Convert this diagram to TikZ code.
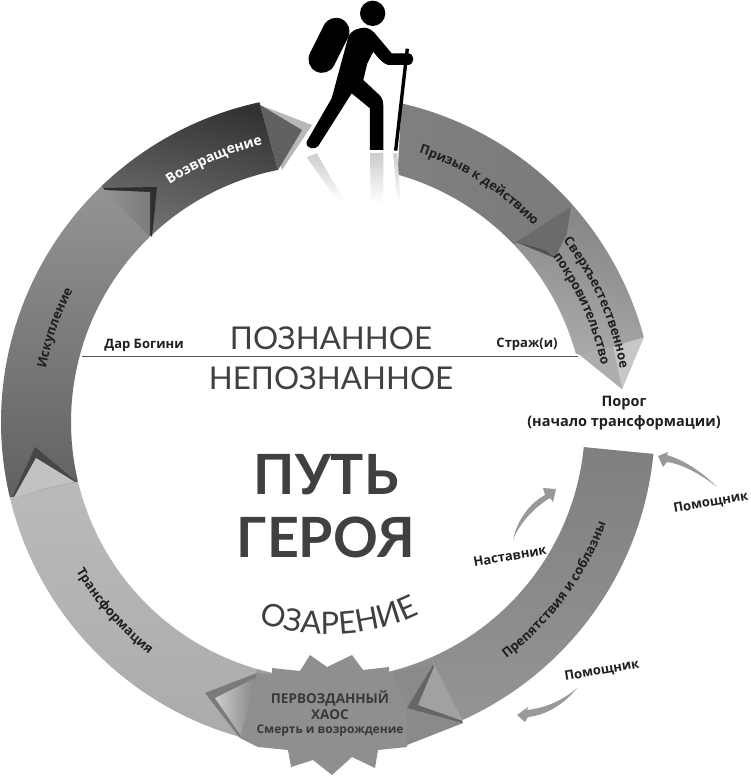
\documentclass[tikz,border=0pt]{standalone}
\usepackage{fontspec}
\usetikzlibrary{decorations.text}
\setmainfont{Open Sans}
\newfontfamily\titlef{Lato}
\newcommand\lblf{\fontsize{13}{15}\bfseries\selectfont}
\newcommand\RO{327}
\newcommand\RI{257}
\definecolor{txtgrey}{gray}{0.12}
\definecolor{titlegrey}{gray}{0.25}
\tikzset{
  flat/.style={fill=#1,draw=none},
  label text/.style={font=\lblf,text=txtgrey,inner sep=0pt},
  title text/.style={font=\titlef\fontsize{31.4}{34}\selectfont,text=titlegrey,inner sep=0pt},
  big text/.style={font=\titlef\bfseries\fontsize{55.5}{58}\selectfont,text=titlegrey,inner sep=0pt},
  helper arrow/.style={fill=black!40,draw=none},
  reflect/.style={top color=black!20,bottom color=white,draw=none},
  arc text/.style={decorate,decoration={text along path,text align=center,text={#1}}}
}
\begin{document}
\begin{tikzpicture}[x=1pt,y=1pt]
\useasboundingbox (0,0) rectangle (750,-781);
\fill[white] (0,0) rectangle (750,-781);
\coordinate (c) at (328,-422);

% ---- Supernatural aid (under Call)
\path[left color=black!48,right color=black!30,shading angle=-20]
  ([shift={(41.4:\RO)}]c) arc[start angle=41.4,end angle=15.1,radius=\RO]
  -- (622,-389) -- (580,-355)
  -- ([shift={(15.5:\RI)}]c) arc[start angle=15.5,end angle=43.6,radius=\RI] -- cycle;
\path[flat=black!22] (644,-337) -- (622,-389) -- (613,-347) -- cycle;
\path[flat=black!32] (613,-347) -- (622,-389) -- (580,-355) -- cycle;
% ---- Call
\path[left color=black!50,right color=black!52]
  ([shift={(77:\RO)}]c) arc[start angle=77,end angle=41.4,radius=\RO]
  -- ([shift={(43.6:\RI)}]c) arc[start angle=43.6,end angle=74.3,radius=\RI] -- cycle;
\path[flat=black!58] (571,-207) -- (516,-242) -- (555,-258) -- (567,-233) -- cycle;
\path[flat=black!68] (516,-242) -- (555,-258) -- (545,-250) -- cycle;

% ---- Return
\path[flat=black!28] (260,-105) -- (312,-125) -- (282,-170) -- cycle;
\path[left color=black!80,right color=black!55,shading angle=-15]
  ([shift={(133.9:\RO)}]c) arc[start angle=133.9,end angle=102.1,radius=\RO]
  -- ([shift={(101.2:\RI)}]c) arc[start angle=101.2,end angle=133.6,radius=\RI] -- cycle;
\path[flat=black!62] (260,-105) -- (302,-130) -- (278,-170) -- cycle;

% ---- Atonement
\path[top color=black!42,bottom color=black!62]
  ([shift={(133.9:\RO)}]c) arc[start angle=133.9,end angle=193.4,radius=\RO]
  -- ([shift={(193.4:\RI)}]c) arc[start angle=193.4,end angle=133.6,radius=\RI] -- cycle;
\path[flat=black!82] (103,-188) -- (157,-187) -- (152,-237) -- cycle;
\path[left color=black!42,right color=black!52] (103,-190) -- (150,-192) -- (150,-236) -- cycle;
\path[flat=black!72] (35,-447) -- (11,-500) -- (77,-482) -- cycle;

% ---- Transformation
\path[top color=black!27,bottom color=black!33]
  ([shift={(193.4:\RO)}]c) arc[start angle=193.4,end angle=255,radius=\RO]
  -- ([shift={(255:\RI)}]c) arc[start angle=255,end angle=193.4,radius=\RI] -- cycle;
\path[flat=black!24] (36,-458) -- (13,-499) -- (75,-482) -- cycle;
\path[flat=black!30] (13,-499) -- (75,-482) -- (45,-488) -- cycle;

% ---- Bottom of the ring
\path[left color=black!38,right color=black!46]
  ([shift={(254:\RO)}]c) arc[start angle=254,end angle=294,radius=\RO]
  -- ([shift={(-66.4:\RI)}]c) arc[start angle=-66.4,end angle=-106,radius=\RI] -- cycle;
\path[flat=black!52] (257,-673) -- (205,-693) -- (240,-738) -- cycle;
\path[left color=black!20,right color=black!48] (215,-698) -- (257,-677) -- (241,-736) -- cycle;

% ---- Trials
\path[top color=black!50,bottom color=black!42]
  ([shift={(-66:\RO)}]c) arc[start angle=-66,end angle=-5.6,radius=\RO]
  -- ([shift={(-5.6:\RI)}]c) arc[start angle=-5.6,end angle=-66.4,radius=\RI] -- cycle;

% ---- Chaos star
\path[flat=black!44] (257,-673) -- (272,-675) -- (272,-668) -- (300,-671) -- (310,-655) -- (327,-667)
  -- (352,-655) -- (363,-670) -- (389,-667) -- (389,-673) -- (407,-707) -- (407,-747)
  -- (378,-750) -- (375,-768) -- (352,-757) -- (332,-775) -- (313,-760) -- (291,-767)
  -- (288,-750) -- (258,-747) -- (240,-738) -- cycle;
\path[flat=black!46] (407,-708) -- (392,-672) -- (433,-665) -- (463,-723) -- (407,-745) -- cycle;
\path[flat=black!60] (407,-708) -- (433,-665) -- (463,-723) -- cycle;
\path[flat=black!37] (418,-705) -- (434.5,-666) -- (463,-721) -- cycle;

% ---- Dividing line and titles
\coordinate (lineL) at (82,-356.5);
\coordinate (lineR) at (578,-356.5);
\draw[black!65,line width=1.2pt] (lineL) -- (lineR);
\node[title text] (known) at (331,-338) {ПОЗНАННОЕ};
\node[title text] (unknown) at (331,-378) {НЕПОЗНАННОЕ};
\node[big text] (way) at (326,-475) {ПУТЬ};
\node[big text] (hero) at (326,-537) {ГЕРОЯ};
\path[arc text={|\titlef\fontsize{31}{33}\selectfont\color{titlegrey}|ОЗАРЕНИЕ}]
  (257,-621) .. controls (300,-640) and (370,-640) .. (421,-613);

% ---- Labels on the ring
\path[arc text={|\lblf\color{txtgrey}|Призыв к действию}] ([shift={(72:284)}]c) arc[start angle=72,end angle=43,radius=284];
\path[arc text={|\lblf\color{txtgrey}|Сверхъестественное}] ([shift={(40:297)}]c) arc[start angle=40,end angle=8,radius=297];
\path[arc text={|\lblf\color{txtgrey}|покровительство}] ([shift={(37:279)}]c) arc[start angle=37,end angle=11,radius=279];
\path[arc text={|\fontsize{14}{16}\bfseries\selectfont\color{white}|Возвращение}] ([shift={(127:285)}]c) arc[start angle=127,end angle=100,radius=285];
\path[arc text={|\lblf\color{txtgrey}|Искупление}] ([shift={(172:287)}]c) arc[start angle=172,end angle=150,radius=287];
\path[arc text={|\lblf\color{txtgrey}|Трансформация}] ([shift={(207:293)}]c) arc[start angle=207,end angle=236,radius=293];
\path[arc text={|\lblf\color{txtgrey}|Препятствия и соблазны}] ([shift={(-56:296)}]c) arc[start angle=-56,end angle=-17,radius=296];

% ---- Plain labels
\node[label text] (gift) at (144,-345) {Дар Богини};
\node[label text] (guard) at (527,-344) {Страж(и)};
\node[label text,font=\bfseries\fontsize{14.5}{16}\selectfont] (thr1) at (624,-403) {Порог};
\node[label text,font=\bfseries\fontsize{14.5}{16}\selectfont] (thr2) at (624,-423) {(начало трансформации)};
\node[label text,rotate=10] (mentor) at (510,-556) {Наставник};
\node[label text,rotate=10] (help1) at (711,-503) {Помощник};
\node[label text,rotate=10] (help2) at (602,-671) {Помощник};
\node[label text,text=black!78,font=\bfseries\fontsize{13.5}{15}\selectfont] (chaos1) at (330,-699) {ПЕРВОЗДАННЫЙ};
\node[label text,text=black!78,font=\bfseries\fontsize{13.5}{15}\selectfont] (chaos2) at (330,-715) {ХАОС};
\node[label text,text=black!78,font=\bfseries\fontsize{12}{14}\selectfont] (chaos3) at (330,-731) {Смерть и возрождение};

% ---- Helper arrows
\path[helper arrow] (513,-540) .. controls (517,-520) and (530,-503) .. (545,-495)
  -- (543,-488) -- (556,-489) -- (553,-502) -- (550,-498)
  .. controls (535,-507) and (520,-522) .. cycle;
\path[helper arrow] (717,-487) .. controls (700,-470) and (683,-460) .. (667,-455)
  -- (668,-452) -- (658,-456) -- (663,-467) -- (667,-462)
  .. controls (683,-464) and (703,-476) .. cycle;
\path[helper arrow] (577,-688) .. controls (562,-701) and (545,-708) .. (527,-710)
  -- (528,-707) -- (517,-715) -- (525,-722) -- (528,-717)
  .. controls (548,-715) and (566,-702) .. cycle;

% ---- Hiker
\begin{scope}[shift={(280,0)},x=0.3333pt,y=-0.3333pt]
  \path[reflect] (80,472) -- (110,460) -- (195,605) -- (170,600) -- cycle;
  \path[reflect] (270,460) -- (310,458) -- (310,610) -- (272,610) -- cycle;
  \path[reflect] (340,460) -- (352,460) -- (362,610) -- (352,610) -- cycle;
  \fill[black] (278,40) circle[radius=38];
  \draw[black,line width=27pt,line cap=round] (168,94) -- (126,178);
  \fill[black] (240,85) .. controls (255,80) and (270,85) .. (282,97)
    -- (335,160) -- (385,160) .. controls (405,163) and (405,192) .. (385,195)
    -- (325,195) .. controls (310,192) and (295,175) .. (280,155)
    -- (262,190) -- (250,240) -- (298,285) .. controls (308,295) and (310,305) .. (310,320)
    -- (310,450) -- (270,450) -- (270,325) -- (215,280)
    -- (115,438) .. controls (105,452) and (75,445) .. (80,425)
    -- (155,295) -- (205,110) .. controls (212,95) and (225,88) .. (240,85) -- cycle;
  \draw[black,line width=3.4pt] (382,146) -- (347,452);
\end{scope}
\end{tikzpicture}
\end{document}
